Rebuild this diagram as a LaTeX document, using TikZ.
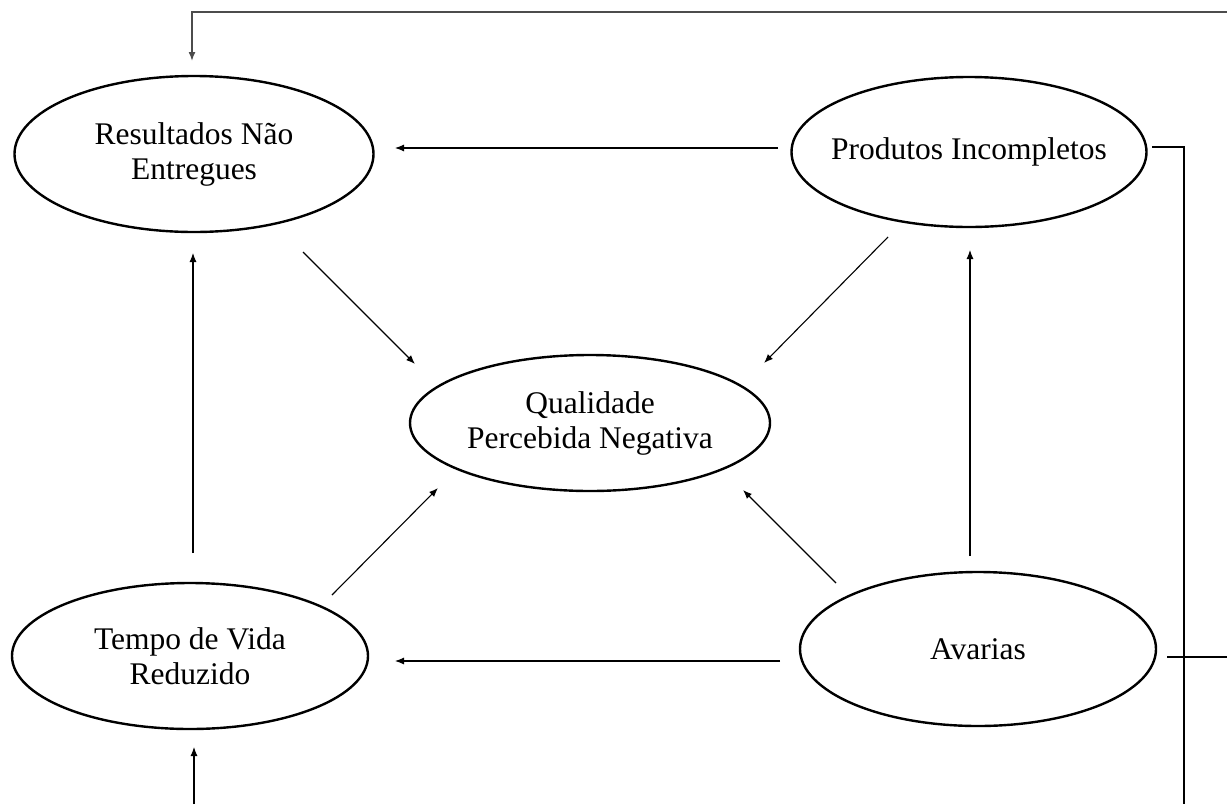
\documentclass[tikz,border=0pt]{standalone}
\usepackage{fontspec}
\setmainfont{Liberation Serif}
\usetikzlibrary{shapes.geometric,arrows.meta}
\begin{document}
\begin{tikzpicture}[x=1pt,y=-1pt,
  ell/.style={draw=black,line width=2.4pt,ellipse,inner sep=0pt,align=center,
    font=\fontsize{31.5}{35}\selectfont},
  conn/.style={line width=1.1pt,-{Latex[length=9pt,width=7pt]}},
  plain/.style={line width=1.1pt}]
\useasboundingbox (0,0) rectangle (1227,804);
\node[ell,minimum width=359pt,minimum height=156pt] (rne) at (194,154) {Resultados Não\\Entregues};
\node[ell,inner xsep=-14pt,minimum width=355pt,minimum height=150pt] (pi) at (969,152) {Produtos Incompletos};
\node[ell,minimum width=360pt,minimum height=136pt] (qpn) at (590,423) {Qualidade\\Percebida Negativa};
\node[ell,minimum width=356pt,minimum height=146pt] (tvr) at (190,656) {Tempo de Vida\\Reduzido};
\node[ell,minimum width=356pt,minimum height=154pt] (av) at (978,649) {Avarias};
% arrow end points
\coordinate (a1s) at (303,252); \coordinate (a1e) at (415,364);
\coordinate (a2s) at (888,237); \coordinate (a2e) at (764,363);
\coordinate (a3s) at (332,595); \coordinate (a3e) at (438,488);
\coordinate (a4s) at (836,583); \coordinate (a4e) at (743,490);
\coordinate (a5s) at (778,148); \coordinate (a5e) at (395,148);
\coordinate (a6s) at (780,661); \coordinate (a6e) at (395,661);
\coordinate (a7s) at (193,553); \coordinate (a7e) at (193,253);
\coordinate (a8s) at (970,556); \coordinate (a8e) at (970,250);
\coordinate (topR) at (1227,12); \coordinate (topL) at (192,12); \coordinate (topE) at (192,61);
\coordinate (botS) at (194,804); \coordinate (botE) at (194,747);
\coordinate (piR1) at (1152,147); \coordinate (piR2) at (1184,147); \coordinate (piR3) at (1184,804);
\coordinate (avR1) at (1167,657); \coordinate (avR2) at (1227,657);
\draw[conn] (a1s) -- (a1e);
\draw[conn] (a2s) -- (a2e);
\draw[conn] (a3s) -- (a3e);
\draw[conn] (a4s) -- (a4e);
\draw[conn] (a5s) -- (a5e);
\draw[conn] (a6s) -- (a6e);
\draw[conn] (a7s) -- (a7e);
\draw[conn] (a8s) -- (a8e);
\draw[conn,draw=black!70,line width=1.5pt] (topR) -- (topL) -- (topE);
\draw[conn] (botS) -- (botE);
\draw[plain] (piR1) -- (piR2) -- (piR3);
\draw[plain] (avR1) -- (avR2);
\end{tikzpicture}
\end{document}
